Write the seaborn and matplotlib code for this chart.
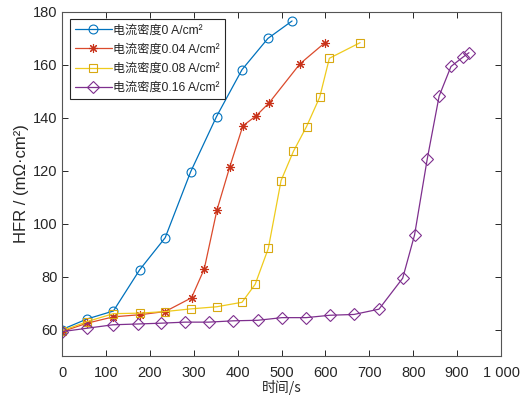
import matplotlib
matplotlib.use("Agg")
import matplotlib.pyplot as plt
import seaborn as sns
import pandas as pd

# HFR vs. time at four current densities
labels = ["电流密度0 A/cm²", "电流密度0.04 A/cm²", "电流密度0.08 A/cm²", "电流密度0.16 A/cm²"]

t0 = [0, 57, 117, 177, 235, 293, 352, 410, 469, 524]
hfr0 = [60.0, 64.0, 67.0, 82.6, 94.7, 119.6, 140.5, 158.2, 170.0, 176.6]

t1 = [0, 57, 117, 177, 235, 295, 324, 353, 382, 412, 442, 472, 542, 599]
hfr1 = [59.2, 62.4, 64.8, 65.6, 66.8, 72.0, 82.9, 105.2, 121.4, 137.0, 140.7, 145.7, 160.4, 168.4]

t2 = [0, 57, 117, 177, 235, 293, 352, 410, 440, 470, 499, 527, 557, 587, 609, 679]
hfr2 = [59.5, 63.0, 66.0, 66.2, 66.8, 67.8, 68.6, 70.3, 77.1, 90.7, 116.3, 127.3, 136.7, 147.8, 162.5, 168.4]

t3 = [0, 57, 116, 172, 225, 280, 334, 390, 446, 501, 556, 610, 665, 722, 776, 803, 832, 859, 886, 913, 927]
hfr3 = [59.2, 60.5, 61.8, 62.1, 62.4, 62.8, 62.8, 63.3, 63.5, 64.5, 64.5, 65.4, 65.7, 67.7, 79.4, 95.7,
        124.5, 148.2, 159.4, 162.9, 164.6]

xticks = [0, 100, 200, 300, 400, 500, 600, 700, 800, 900, 1000]
xticklabels = ["0", "100", "200", "300", "400", "500", "600", "700", "800", "900", "1 000"]
yticks = [60, 80, 100, 120, 140, 160, 180]

line_colors = ["#0072BD", "#DB4A2C", "#EFCB1C", "#7E2F8E"]
edge_colors = ["#0072BD", "#C8321A", "#D8A812", "#7E2F8E"]
markers = ["o", (8, 2, 0), "s", "D"]
msizes = [6.4, 6.5, 5.5, 5.8]

sns.set_theme(style="white")
plt.rcParams["font.family"] = ["Liberation Sans", "Noto Sans CJK SC", "DejaVu Sans"]
plt.rcParams["axes.unicode_minus"] = False

fig = plt.figure(figsize=(5.22, 3.95), dpi=100)
ax = fig.add_axes([0.1188, 0.0987, 0.841, 0.871])

series = [(t0, hfr0), (t1, hfr1), (t2, hfr2), (t3, hfr3)]
for (t, h), lab, c, ec, m, ms in zip(series, labels, line_colors, edge_colors, markers, msizes):
    df = pd.DataFrame({"t": t, "hfr": h})
    sns.lineplot(data=df, x="t", y="hfr", ax=ax, color=c, linewidth=0.9,
                 marker=m, markersize=ms, markerfacecolor="none",
                 markeredgecolor=ec, markeredgewidth=0.8, label=lab)

ax.set_xlim(0, 1000)
ax.set_ylim(50, 180)
ax.set_xticks(xticks)
ax.set_xticklabels(xticklabels)
ax.set_yticks(yticks)
ax.tick_params(direction="in", length=4, width=0.7, colors="#262626",
               labelsize=10.5, top=True, right=True, bottom=True, left=True)
ax.tick_params(axis="x", pad=7)
ax.tick_params(axis="y", pad=3)
for s in ax.spines.values():
    s.set_color("#555555")
    s.set_linewidth(0.8)
    s.set_visible(True)

ax.set_xlabel("时间/s", fontsize=10, family=["Noto Sans CJK SC"], labelpad=0)
ax.set_ylabel("HFR / (mΩ·cm²)", fontsize=12, labelpad=3)

leg = ax.legend(loc="upper left", bbox_to_anchor=(0.018, 0.98), fontsize=8.7,
                frameon=True, fancybox=False, framealpha=1, edgecolor="#262626",
                handlelength=3.0, borderpad=0.45, labelspacing=0.6, handletextpad=0.15,
                borderaxespad=0.0)
leg.get_frame().set_linewidth(0.8)

fig.savefig("out.png", dpi=100)
